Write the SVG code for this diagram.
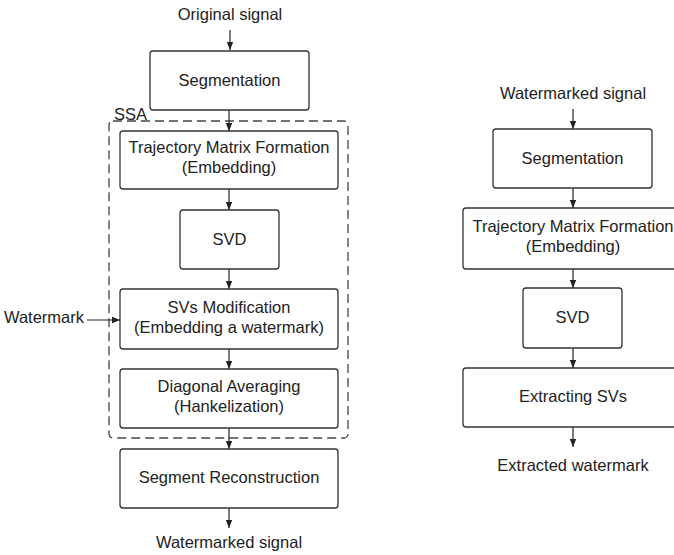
<svg xmlns="http://www.w3.org/2000/svg" width="674" height="555" viewBox="0 0 674 555">
<defs>
<marker id="ah" viewBox="0 0 8 8" refX="8" refY="4" markerWidth="8" markerHeight="8" markerUnits="userSpaceOnUse" orient="auto">
<path d="M0,0.8 L8,4 L0,7.2 z" fill="#222"/>
</marker>
<style>
.box{fill:#fff;stroke:#333;stroke-width:1.3}
.t{font-family:"Liberation Sans",Arial,sans-serif;font-size:16.5px;fill:#222;text-anchor:middle}
.c{stroke:#222;stroke-width:1.2;fill:none;marker-end:url(#ah)}
.dash{fill:none;stroke:#444;stroke-width:1.3;stroke-dasharray:9,5}
</style>
</defs>
<rect width="674" height="555" fill="#fff"/>
<g id="ssa">
<rect class="dash" x="109" y="121" width="239" height="317" rx="4"/>
<text class="t" x="114" y="120" style="text-anchor:start">SSA</text>
</g>
<g id="labels">
<text class="t" x="230" y="20">Original signal</text>
<text class="t" x="229" y="548">Watermarked signal</text>
<text class="t" x="84" y="323" style="text-anchor:end">Watermark</text>
<text class="t" x="573" y="99">Watermarked signal</text>
<text class="t" x="573" y="471">Extracted watermark</text>
</g>
<g id="connectors">
<line class="c" x1="230" y1="30" x2="230" y2="50"/>
<line class="c" x1="229" y1="110" x2="229" y2="131"/>
<line class="c" x1="229" y1="189" x2="229" y2="210"/>
<line class="c" x1="229" y1="269" x2="229" y2="289"/>
<line class="c" x1="229" y1="349" x2="229" y2="369"/>
<line class="c" x1="229" y1="428" x2="229" y2="449"/>
<line class="c" x1="229" y1="508" x2="229" y2="528"/>
<line class="c" x1="87" y1="320" x2="120" y2="320"/>
<line class="c" x1="573" y1="109" x2="573" y2="129"/>
<line class="c" x1="573" y1="188" x2="573" y2="208"/>
<line class="c" x1="573" y1="269" x2="573" y2="288"/>
<line class="c" x1="573" y1="348" x2="573" y2="368"/>
<line class="c" x1="573" y1="427" x2="573" y2="447"/>
</g>
<g id="seg1">
<rect class="box" x="150" y="51" width="159" height="59" rx="3"/>
<text class="t" x="229.5" y="86">Segmentation</text>
</g>
<g id="traj1">
<rect class="box" x="120" y="131" width="218" height="58" rx="3"/>
<text class="t" x="229" y="153">Trajectory Matrix Formation</text>
<text class="t" x="229" y="173">(Embedding)</text>
</g>
<g id="svd1">
<rect class="box" x="180" y="210" width="99" height="59" rx="3"/>
<text class="t" x="229.5" y="245">SVD</text>
</g>
<g id="svmod">
<rect class="box" x="120" y="289" width="218" height="60" rx="3"/>
<text class="t" x="229" y="313">SVs Modification</text>
<text class="t" x="229" y="333">(Embedding a watermark)</text>
</g>
<g id="diag">
<rect class="box" x="120" y="369" width="218" height="59" rx="3"/>
<text class="t" x="229" y="392">Diagonal Averaging</text>
<text class="t" x="229" y="412">(Hankelization)</text>
</g>
<g id="recon">
<rect class="box" x="120" y="449" width="218" height="59" rx="3"/>
<text class="t" x="229" y="483">Segment Reconstruction</text>
</g>
<g id="seg2">
<rect class="box" x="493" y="129" width="159" height="59" rx="3"/>
<text class="t" x="572.5" y="164">Segmentation</text>
</g>
<g id="traj2">
<rect class="box" x="463" y="208" width="220" height="61" rx="3"/>
<text class="t" x="573" y="232">Trajectory Matrix Formation</text>
<text class="t" x="573" y="252">(Embedding)</text>
</g>
<g id="svd2">
<rect class="box" x="523" y="288" width="99" height="60" rx="3"/>
<text class="t" x="572.5" y="323">SVD</text>
</g>
<g id="extract">
<rect class="box" x="463" y="368" width="220" height="59" rx="3"/>
<text class="t" x="573" y="402">Extracting SVs</text>
</g>
</svg>
